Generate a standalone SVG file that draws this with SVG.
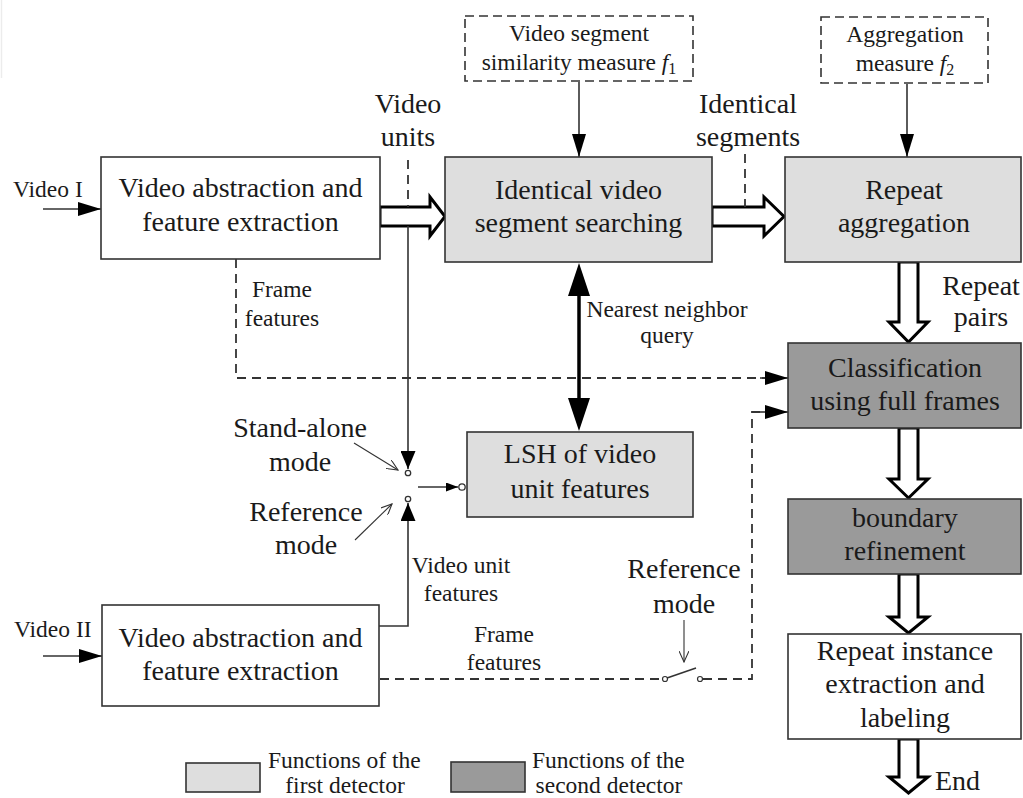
<svg xmlns="http://www.w3.org/2000/svg" width="1023" height="798" viewBox="0 0 1023 798">
<style>
text{font-family:"Liberation Serif","Times New Roman",serif;fill:#1a1a1a}
.big{font-size:28px}
.sm{font-size:23.5px}
.c{text-anchor:middle}
.box{stroke:#333;stroke-width:1.6}
.white{fill:#fff}
.light{fill:#dedede}
.dark{fill:#9a9a9a}
.dbox{fill:none;stroke:#333;stroke-width:1.6;stroke-dasharray:9 5}
.dash{fill:none;stroke:#333;stroke-width:1.8;stroke-dasharray:9 6}
.line{fill:none;stroke:#333;stroke-width:1.6}
.thin{fill:none;stroke:#333;stroke-width:1.1}
.hollow{fill:#fff;stroke:#000;stroke-width:3;stroke-linejoin:miter}
</style>
<defs>
<marker id="arr" markerUnits="userSpaceOnUse" markerWidth="23" markerHeight="14" refX="23" refY="7" orient="auto"><path d="M0,0 L23,7 L0,14 z" fill="#000"/></marker>
<marker id="arrS" markerUnits="userSpaceOnUse" markerWidth="18" markerHeight="15" refX="18" refY="7.5" orient="auto"><path d="M0,0 L18,7.5 L0,15 z" fill="#000"/></marker>
<marker id="arrT" markerUnits="userSpaceOnUse" markerWidth="12" markerHeight="9" refX="12" refY="4.5" orient="auto"><path d="M0,0 L12,4.5 L0,9 z" fill="#000"/></marker>
<marker id="vee" markerUnits="userSpaceOnUse" markerWidth="12" markerHeight="10" refX="11" refY="5" orient="auto"><path d="M0,0 L11,5 L0,10" fill="none" stroke="#333" stroke-width="1.1"/></marker>
</defs>

<line x1="1.5" y1="0" x2="1.5" y2="78" stroke="#ececec" stroke-width="1.5"/>

<g id="connectors">
  <line class="line" x1="43" y1="209" x2="101" y2="209" marker-end="url(#arr)"/>
  <line class="line" x1="43" y1="656" x2="102" y2="656" marker-end="url(#arr)"/>
  <line class="line" x1="579" y1="82" x2="579" y2="157" marker-end="url(#arr)"/>
  <line class="line" x1="907" y1="84" x2="907" y2="157" marker-end="url(#arr)"/>
  <polygon class="hollow" points="380,207 430,207 430,197 445,216.5 430,236 430,226 380,226"/>
  <polygon class="hollow" points="712,207 764,207 764,197 784,216.5 764,236 764,226 712,226"/>
  <polygon class="hollow" points="899,262 918,262 918,322 928,322 908.5,342 889,322 899,322"/>
  <polygon class="hollow" points="899,428 918,428 918,479 928,479 908.5,498 889,479 899,479"/>
  <polygon class="hollow" points="899,574 918,574 918,617 928,617 908.5,633 889,617 899,617"/>
  <polygon class="hollow" points="899,739 918,739 918,777 928,777 908.5,793 889,777 899,777"/>
  <line class="dash" x1="408" y1="160" x2="408" y2="207" stroke-dasharray="9 5"/>
  <line class="dash" x1="745" y1="154" x2="745" y2="207" stroke-dasharray="9 5"/>
  <line class="line" x1="408" y1="226" x2="408" y2="469" marker-end="url(#arrS)"/>
  <circle cx="408" cy="473" r="2.7" fill="#fff" stroke="#333" stroke-width="1.3"/>
  <circle cx="408" cy="499" r="2.7" fill="#fff" stroke="#333" stroke-width="1.3"/>
  <polyline class="line" points="379,626 408,626 408,503" marker-end="url(#arrS)"/>
  <line class="line" x1="418" y1="487" x2="458" y2="487" marker-end="url(#arrT)"/>
  <circle cx="462" cy="487" r="3.2" fill="#fff" stroke="#333" stroke-width="1.3"/>
  <line x1="579" y1="290" x2="579" y2="404" stroke="#000" stroke-width="3.5"/>
  <path d="M579,263 L590,296 L568,296 z" fill="#000"/>
  <path d="M579,431 L590,398 L568,398 z" fill="#000"/>
  <polyline class="dash" points="236,259 236,378 766,378"/>
  <line class="line" x1="760" y1="378" x2="788" y2="378" marker-end="url(#arr)"/>
  <line class="dash" x1="380" y1="679" x2="662" y2="679"/>
  <circle cx="665" cy="679" r="2.5" fill="#fff" stroke="#333" stroke-width="1.2"/>
  <line class="line" x1="667" y1="678" x2="696" y2="668" stroke-width="1.3"/>
  <circle cx="700" cy="679" r="2.5" fill="#fff" stroke="#333" stroke-width="1.2"/>
  <polyline class="dash" points="703,679 752,679 752,412 766,412"/>
  <line class="line" x1="760" y1="412" x2="788" y2="412" marker-end="url(#arr)"/>
  <line class="thin" x1="354" y1="443" x2="398" y2="470" marker-end="url(#vee)"/>
  <line class="thin" x1="355" y1="540" x2="392" y2="504" marker-end="url(#vee)"/>
  <line class="thin" x1="684" y1="620" x2="684" y2="662" marker-end="url(#vee)"/>
</g>

<g id="nodeA">
  <rect class="box white" x="101" y="157" width="279" height="102"/>
  <text class="big c" x="240.5" y="197">Video abstraction and</text>
  <text class="big c" x="240.5" y="231">feature extraction</text>
</g>
<g id="nodeA2">
  <rect class="box white" x="102" y="605" width="277" height="101"/>
  <text class="big c" x="240.5" y="647">Video abstraction and</text>
  <text class="big c" x="240.5" y="680">feature extraction</text>
</g>
<g id="nodeB">
  <rect class="box light" x="445" y="157" width="267" height="105"/>
  <text class="big c" x="578.5" y="199">Identical video</text>
  <text class="big c" x="578.5" y="232">segment searching</text>
</g>
<g id="nodeC">
  <rect class="box light" x="785" y="157" width="236" height="105"/>
  <text class="big c" x="904" y="199">Repeat</text>
  <text class="big c" x="904" y="232">aggregation</text>
</g>
<g id="nodeF1">
  <rect class="dbox" x="465" y="16" width="228" height="65"/>
  <text class="sm c" x="579" y="41">Video segment</text>
  <text class="sm c" x="579" y="70">similarity measure <tspan font-style="italic">f</tspan><tspan font-size="16" dy="4">1</tspan></text>
</g>
<g id="nodeF2">
  <rect class="dbox" x="821" y="17" width="167" height="66"/>
  <text class="sm c" x="905" y="42">Aggregation</text>
  <text class="sm c" x="905" y="71">measure <tspan font-style="italic">f</tspan><tspan font-size="16" dy="4">2</tspan></text>
</g>
<g id="nodeLSH">
  <rect class="box light" x="467" y="432" width="226" height="85"/>
  <text class="big c" x="580" y="463">LSH of video</text>
  <text class="big c" x="580" y="498">unit features</text>
</g>
<g id="nodeClass">
  <rect class="box dark" x="788" y="343" width="233" height="85"/>
  <text class="big c" x="905" y="377">Classification</text>
  <text class="big c" x="905" y="410">using full frames</text>
</g>
<g id="nodeBoundary">
  <rect class="box dark" x="788" y="499" width="233" height="75"/>
  <text class="big c" x="905" y="527">boundary</text>
  <text class="big c" x="905" y="560">refinement</text>
</g>
<g id="nodeRepeat">
  <rect class="box white" x="788" y="634" width="233" height="105"/>
  <text class="big c" x="905" y="660">Repeat instance</text>
  <text class="big c" x="905" y="693">extraction and</text>
  <text class="big c" x="905" y="727">labeling</text>
</g>

<g id="labels">
  <text class="sm" x="13" y="197">Video I</text>
  <text class="sm" x="14" y="637">Video II</text>
  <text class="big c" x="408" y="113">Video</text>
  <text class="big c" x="408" y="146">units</text>
  <text class="big c" x="748" y="113">Identical</text>
  <text class="big c" x="748" y="146">segments</text>
  <text class="big c" x="981" y="295">Repeat</text>
  <text class="big c" x="981" y="326">pairs</text>
  <text class="sm c" x="282" y="297">Frame</text>
  <text class="sm c" x="282" y="326">features</text>
  <text class="sm c" x="667" y="317">Nearest neighbor</text>
  <text class="sm c" x="667" y="343">query</text>
  <text class="big c" x="300" y="437">Stand-alone</text>
  <text class="big c" x="300" y="471">mode</text>
  <text class="big c" x="306" y="521">Reference</text>
  <text class="big c" x="306" y="554">mode</text>
  <text class="sm c" x="461" y="573">Video unit</text>
  <text class="sm c" x="461" y="601">features</text>
  <text class="sm c" x="504" y="642">Frame</text>
  <text class="sm c" x="504" y="670">features</text>
  <text class="big c" x="684" y="578">Reference</text>
  <text class="big c" x="684" y="613">mode</text>
  <text class="big" x="935" y="790">End</text>
</g>

<g id="legend">
  <rect class="box light" x="186" y="763" width="74" height="29"/>
  <text class="sm" x="268" y="768">Functions of the</text>
  <text class="sm c" x="345" y="793">first detector</text>
  <rect class="box dark" x="451" y="762" width="74" height="30"/>
  <text class="sm" x="532" y="768">Functions of the</text>
  <text class="sm c" x="609" y="793">second detector</text>
</g>
</svg>
